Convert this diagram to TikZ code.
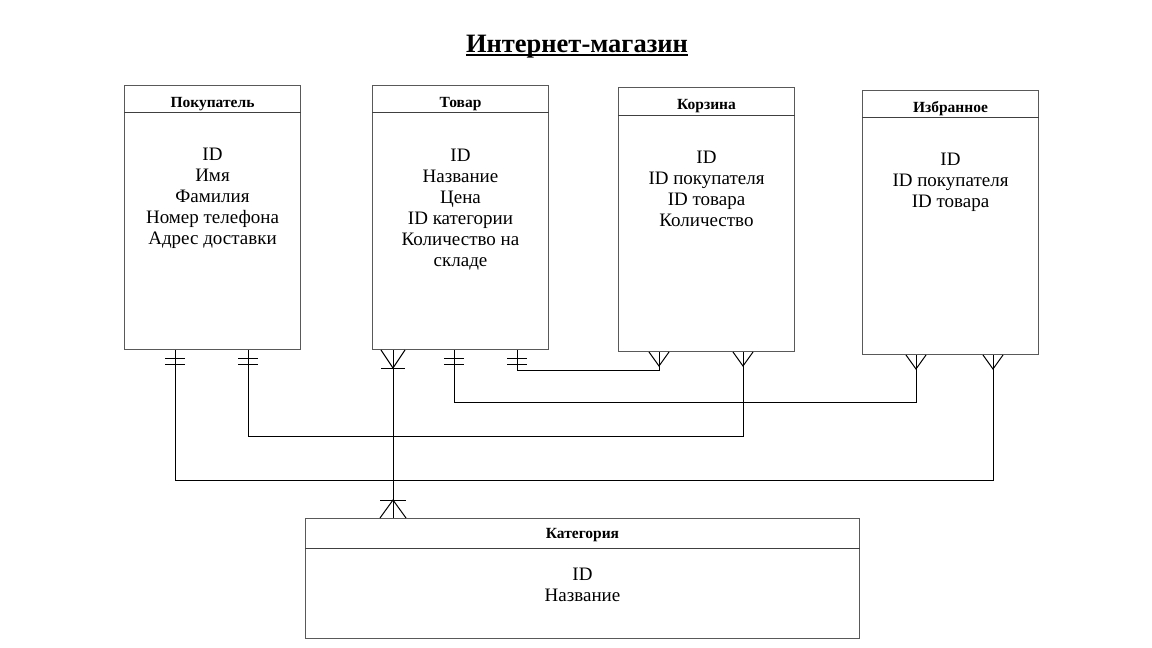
\documentclass[tikz,border=0pt]{standalone}
\usepackage{fontspec}
\setmainfont{Liberation Serif}
\usetikzlibrary{calc}
\tikzset{
  ent/.style={draw=black!65, line width=1pt, inner sep=0pt, anchor=north west},
  hline/.style={draw=black!75, line width=1pt},
  hdr/.style={font=\bfseries\fontsize{15.5}{17}\selectfont, inner sep=0pt, anchor=base},
  bodytxt/.style={font=\fontsize{19}{21}\selectfont, align=center, inner sep=0pt, anchor=north},
  conn/.style={draw=black, line width=1pt},
  symb/.style={draw=black, line width=1pt}
}
\begin{document}
\begin{tikzpicture}[x=1pt,y=-1pt]
\useasboundingbox (0,0) rectangle (1152,648);
% title
\node[font=\bfseries\fontsize{26.5}{30}\selectfont, inner sep=0pt, anchor=base] (title) at (577,52) {Интернет-магазин};
\draw[line width=2.2pt] ($(title.base west)+(0,3)$) -- ($(title.base east)+(0,3)$);
% entities
\node[ent, minimum width=176pt, minimum height=264pt] (pok) at (124,85) {};
\node[ent, minimum width=176pt, minimum height=264pt] (tov) at (372,85) {};
\node[ent, minimum width=176pt, minimum height=264pt] (kor) at (618,87) {};
\node[ent, minimum width=176pt, minimum height=264pt] (izb) at (862,90) {};
\node[ent, minimum width=554pt, minimum height=120pt] (kat) at (305,518) {};
% header lines
\draw[hline] ($(pok.north west)+(0,27)$) -- ($(pok.north east)+(0,27)$);
\draw[hline] ($(tov.north west)+(0,27)$) -- ($(tov.north east)+(0,27)$);
\draw[hline] ($(kor.north west)+(0,28)$) -- ($(kor.north east)+(0,28)$);
\draw[hline] ($(izb.north west)+(0,27)$) -- ($(izb.north east)+(0,27)$);
\draw[hline] ($(kat.north west)+(0,30)$) -- ($(kat.north east)+(0,30)$);
% headers
\node[hdr] (pokh) at ($(pok.north)+(0,22)$) {Покупатель};
\node[hdr] (tovh) at ($(tov.north)+(0,22)$) {Товар};
\node[hdr] (korh) at ($(kor.north)+(0,22)$) {Корзина};
\node[hdr] (izbh) at ($(izb.north)+(0,22)$) {Избранное};
\node[hdr] (kath) at ($(kat.north)+(0,20)$) {Категория};
% bodies
\node[bodytxt] (pokb) at ($(pok.north)+(0,62)$) {\rule{0pt}{13pt}ID\\Имя\\Фамилия\\Номер телефона\\Адрес доставки};
\node[bodytxt] (tovb) at ($(tov.north)+(0,63)$) {\rule{0pt}{13pt}ID\\Название\\Цена\\ID категории\\Количество на\\складе};
\node[bodytxt] (korb) at ($(kor.north)+(0,63)$) {\rule{0pt}{13pt}ID\\ID покупателя\\ID товара\\Количество};
\node[bodytxt] (izbb) at ($(izb.north)+(0,62)$) {\rule{0pt}{13pt}ID\\ID покупателя\\ID товара};
\node[bodytxt] (katb) at ($(kat.north)+(0,49)$) {\rule{0pt}{13pt}ID\\Название};
% connector end points
\coordinate (pA) at ($(pok.south west)+(51,0)$);
\coordinate (pB) at ($(pok.south west)+(124,0)$);
\coordinate (tA) at ($(tov.south west)+(21,0)$);
\coordinate (tB) at ($(tov.south west)+(82,0)$);
\coordinate (tC) at ($(tov.south west)+(145,0)$);
\coordinate (kA) at ($(kor.south west)+(41,0)$);
\coordinate (kB) at ($(kor.south west)+(125,0)$);
\coordinate (iA) at ($(izb.south west)+(54,0)$);
\coordinate (iB) at ($(izb.south west)+(131,0)$);
\coordinate (cA) at ($(kat.north west)+(88,0)$);
% connectors
\draw[conn] (pA) -- ++(0,130) -| (iB);
\draw[conn] (pB) -- ++(0,86) -| (kB);
\draw[conn] (tA) -- (cA);
\draw[conn] (tB) -- ++(0,52) -| (iA);
\draw[conn] (tC) -- ++(0,20) -| (kA);
% one (double bar) marks
\foreach \p in {pA,pB,tB,tC}{
  \draw[symb] ($(\p)+(-10,8)$) -- ($(\p)+(10,8)$);
  \draw[symb] ($(\p)+(-10,14)$) -- ($(\p)+(10,14)$);
}
% many (crow's foot) marks
\foreach \p in {kA,kB,iA,iB}{
  \draw[symb] ($(\p)+(-10,0)$) -- ($(\p)+(0,14)$) -- ($(\p)+(10,0)$);
}
% one-or-many marks
\draw[symb] ($(tA)+(-12,0)$) -- ($(tA)+(0,18)$) -- ($(tA)+(12,0)$);
\draw[symb] ($(tA)+(-12,18)$) -- ($(tA)+(12,18)$);
\draw[symb] ($(cA)+(-13,0)$) -- ($(cA)+(0,-18)$) -- ($(cA)+(13,0)$);
\draw[symb] ($(cA)+(-13,-18)$) -- ($(cA)+(13,-18)$);
\end{tikzpicture}
\end{document}
